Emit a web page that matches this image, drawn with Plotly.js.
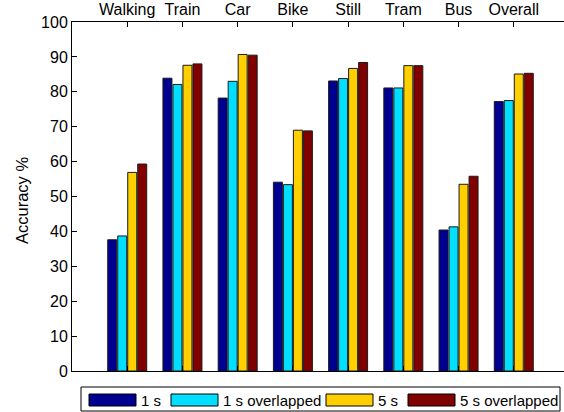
<!DOCTYPE html>
<html>
<head>
<meta charset="utf-8">
<script src="https://cdn.plot.ly/plotly-3.0.1.min.js"></script>
<style>
  html, body { margin: 0; padding: 0; overflow: hidden; background: #fff; }
  #chart { width: 580px; height: 412px; }
</style>
</head>
<body>
<div id="chart"></div>
<script>
const categories = ["Walking", "Train", "Car", "Bike", "Still", "Tram", "Bus", "Overall"];
const seriesNames = ["1 s", "1 s overlapped", "5 s", "5 s overlapped"];
const acc1s      = [37.6, 83.9, 78.2, 54.1, 83.1, 81.1, 40.4, 77.2];
const acc1sOver  = [38.7, 82.1, 83.0, 53.4, 83.8, 81.1, 41.3, 77.5];
const acc5s      = [56.9, 87.6, 90.7, 69.0, 86.7, 87.5, 53.5, 85.1];
const acc5sOver  = [59.3, 88.0, 90.5, 68.8, 88.4, 87.5, 55.8, 85.3];
const yTicks = [0, 10, 20, 30, 40, 50, 60, 70, 80, 90, 100];

const seriesValues = [acc1s, acc1sOver, acc5s, acc5sOver];
const colors = ["#000090", "#00DFFF", "#FFCF00", "#800000"];

const FONT = "Liberation Sans, Arial, Helvetica, sans-serif";

const traces = seriesNames.map((name, i) => ({
  type: "bar",
  name: name,
  x: categories,
  y: seriesValues[i],
  marker: { color: colors[i], line: { color: "#1a1a1a", width: 1 } },
  showlegend: false,
  hoverinfo: "x+y+name"
}));

// Plot-area geometry (pixels) used to place the hand-built legend box
const PL = 72, PW = 497, PT = 22, PH = 349;
const px = v => (v - PL) / PW;
const py = v => (PT + PH - v) / PH;

const legendBox = { x0: 81, x1: 560, y0: 387, y1: 411 };
const swatchX = [89, 171, 326, 408];
const swatchW = 47;
const swatchY = [394, 406];

const shapes = [{
  type: "rect", xref: "paper", yref: "paper",
  x0: px(legendBox.x0), x1: px(legendBox.x1), y0: py(legendBox.y1), y1: py(legendBox.y0),
  line: { color: "#000", width: 1 }, fillcolor: "#fff"
}];
const annotations = [];
seriesNames.forEach((name, i) => {
  shapes.push({
    type: "rect", xref: "paper", yref: "paper",
    x0: px(swatchX[i]), x1: px(swatchX[i] + swatchW),
    y0: py(swatchY[1]), y1: py(swatchY[0]),
    line: { color: "#000", width: 1 }, fillcolor: colors[i]
  });
  annotations.push({
    xref: "paper", yref: "paper",
    x: px(swatchX[i] + swatchW + 3), y: py(400),
    xanchor: "left", yanchor: "middle",
    text: name, showarrow: false,
    font: { family: FONT, size: 15, color: "#000" }
  });
});

// y-axis title, placed slightly below the plot centre as in the reference
annotations.push({
  xref: "paper", yref: "paper",
  x: px(22), y: py(201),
  xanchor: "center", yanchor: "middle", textangle: -90,
  text: "Accuracy %", showarrow: false,
  font: { family: FONT, size: 16.5, color: "#000" }
});

const layout = {
  width: 580, height: 412,
  margin: { l: PL, r: 580 - PL - PW, t: PT, b: 412 - PT - PH, pad: 0 },
  paper_bgcolor: "#fff", plot_bgcolor: "#fff",
  barmode: "group", bargap: 0.276, bargroupgap: 0.1,
  font: { family: FONT, size: 16, color: "#000" },
  xaxis: {
    type: "category", side: "top", range: [-1, 8],
    showline: true, linecolor: "#000", linewidth: 1, mirror: "ticks",
    ticks: "inside", ticklen: 5, tickwidth: 1, tickcolor: "#000",
    showgrid: false, zeroline: false, fixedrange: true,
    tickfont: { family: FONT, size: 16, color: "#000" }
  },
  yaxis: {
    range: [0, 100], tickvals: yTicks,
    showline: true, linecolor: "#000", linewidth: 1, mirror: "ticks",
    ticks: "inside", ticklen: 5, tickwidth: 1, tickcolor: "#000",
    showgrid: false, zeroline: false, fixedrange: true,
    tickfont: { family: FONT, size: 16, color: "#000" }
  },
  shapes: shapes,
  annotations: annotations,
  showlegend: false
};

Plotly.newPlot("chart", traces, layout, { displayModeBar: false });
</script>
</body>
</html>
